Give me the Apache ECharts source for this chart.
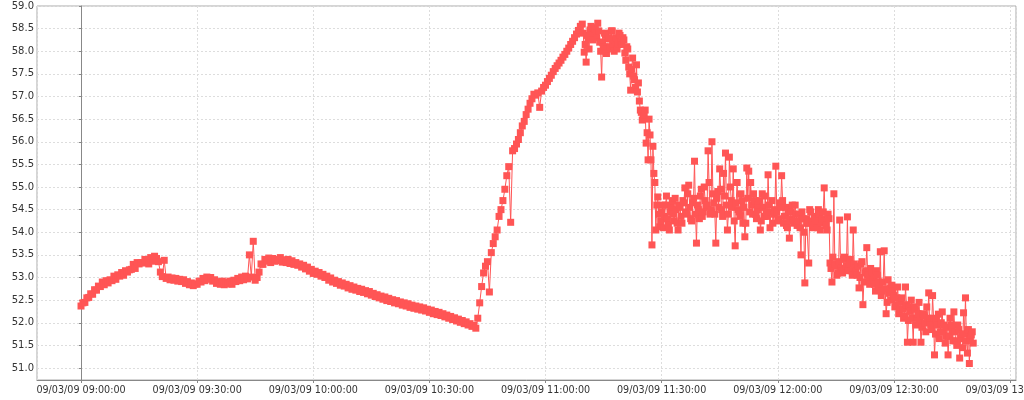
<!DOCTYPE html>
<html>
<head>
<meta charset="utf-8">
<script src="https://cdn.jsdelivr.net/npm/echarts@6/dist/echarts.min.js"></script>
<style>
  html, body { margin: 0; padding: 0; background: #fff; }
  #chart { width: 1024px; height: 400px; }
</style>
</head>
<body>
<div id="chart"></div>
<script>
// readings every 30 s from 09:00:00 (minutes after 09:00 = index * 0.5)
var stepMinutes = 0.5;
var values = [
  52.37, 52.44, 52.45, 52.55, 52.56, 52.64, 52.63, 52.73, 52.72, 52.81,
  52.80, 52.90, 52.84, 52.93, 52.88, 52.95, 52.93, 53.03, 52.96, 53.06,
  53.03, 53.11, 53.05, 53.15, 53.12, 53.17, 53.18, 53.29, 53.20, 53.33,
  53.30, 53.33, 53.32, 53.40, 53.36, 53.30, 53.44, 53.36, 53.47, 53.42,
  53.35, 53.12, 53.02, 53.38, 52.98, 53.01, 52.95, 52.99, 52.94, 52.98,
  52.92, 52.96, 52.91, 52.95, 52.87, 52.91, 52.84, 52.88, 52.82, 52.86,
  52.85, 52.92, 52.90, 52.98, 52.93, 53.01, 52.96, 53.00, 52.92, 52.95,
  52.87, 52.91, 52.85, 52.92, 52.84, 52.90, 52.86, 52.92, 52.85, 52.94,
  52.91, 52.98, 52.93, 53.01, 52.95, 53.03, 52.97, 53.50, 53.01, 53.80,
  52.94, 53.00, 53.12, 53.30, 53.29, 53.40, 53.36, 53.43, 53.33, 53.42,
  53.36, 53.40, 53.37, 53.44, 53.34, 53.39, 53.33, 53.40, 53.31, 53.37,
  53.29, 53.33, 53.27, 53.30, 53.23, 53.27, 53.19, 53.23, 53.14, 53.18,
  53.09, 53.14, 53.07, 53.11, 53.03, 53.07, 53.00, 53.03, 52.94, 52.99,
  52.90, 52.94, 52.87, 52.91, 52.83, 52.88, 52.81, 52.85, 52.77, 52.82,
  52.74, 52.79, 52.72, 52.76, 52.69, 52.74, 52.67, 52.71, 52.64, 52.69,
  52.61, 52.65, 52.58, 52.62, 52.55, 52.59, 52.52, 52.57, 52.49, 52.54,
  52.47, 52.51, 52.44, 52.49, 52.42, 52.46, 52.39, 52.44, 52.37, 52.42,
  52.34, 52.39, 52.32, 52.37, 52.30, 52.35, 52.28, 52.33, 52.26, 52.30,
  52.23, 52.28, 52.20, 52.25, 52.18, 52.23, 52.16, 52.20, 52.13, 52.17,
  52.10, 52.14, 52.07, 52.11, 52.04, 52.08, 52.01, 52.05, 51.98, 52.02,
  51.95, 51.98, 51.92, 51.94, 51.88, 52.10, 52.44, 52.80, 53.10, 53.25,
  53.35, 52.68, 53.55, 53.75, 53.90, 54.05, 54.35, 54.50, 54.70, 54.95,
  55.25, 55.45, 54.22, 55.80, 55.85, 55.95, 56.05, 56.20, 56.35, 56.45,
  56.60, 56.72, 56.85, 56.95, 57.05, 57.03, 57.08, 56.76, 57.12, 57.20,
  57.25, 57.33, 57.40, 57.47, 57.55, 57.62, 57.68, 57.74, 57.80, 57.87,
  57.93, 58.00, 58.07, 58.15, 58.22, 58.30, 58.38, 58.46, 58.55, 58.60,
  57.98, 57.76, 58.30, 58.47, 58.35, 58.52, 58.40, 58.62, 58.20, 57.43,
  58.10, 58.35, 58.05, 58.28, 58.45, 58.15, 58.25, 58.05, 58.40, 58.20,
  58.30, 57.96, 58.10, 57.65, 57.14, 57.85, 57.37, 57.70, 57.30, 56.70,
  56.48, 56.60, 55.97, 55.60, 56.15, 53.72, 55.30, 54.05, 54.78, 54.12,
  54.45, 54.10, 54.60, 54.30, 54.05, 54.55, 54.40, 54.75, 54.20, 54.60,
  54.35, 54.70, 54.98, 54.40, 55.04, 54.30, 54.65, 55.57, 53.76, 54.50,
  54.80, 54.35, 55.00, 54.55, 55.80, 54.40, 56.00, 54.65, 53.76, 54.90,
  55.40, 54.50, 55.30, 55.75, 54.05, 55.66, 54.70, 55.40, 53.70, 55.10,
  54.45, 54.85, 54.20, 53.90, 55.42, 55.35, 55.10, 54.40, 54.70, 54.30,
  54.60, 54.05, 54.85, 54.35, 54.45, 55.27, 54.10, 54.70, 54.40, 55.46,
  54.30, 54.65, 55.25, 54.20, 54.55, 54.10, 53.87, 54.45, 54.25, 54.60,
  54.15, 54.40, 53.50, 54.30, 52.88, 54.20, 53.32, 54.45, 54.10, 54.35,
  54.20, 54.50, 54.05, 54.30, 54.98, 54.15, 54.40, 53.32, 52.90, 54.85,
  53.25, 53.10, 54.27, 53.15, 53.40, 53.20, 54.34, 53.30, 53.15, 54.05,
  53.20, 53.05, 52.77, 53.30, 52.40, 53.10, 53.66, 52.95, 53.20, 53.00,
  52.85, 53.15, 52.90, 53.57, 52.70, 53.59, 52.20, 52.95, 52.75, 52.83,
  52.60, 52.40, 52.79, 52.30, 52.55, 52.10, 52.79, 51.57, 52.35, 52.50,
  51.57, 52.30, 52.10, 52.45, 51.57, 52.20, 52.00, 52.35, 52.66, 51.95,
  52.60, 51.29, 52.05, 52.19, 51.80, 52.24, 51.95, 51.70, 51.29, 52.10,
  51.85, 52.24, 51.60, 51.95, 51.22, 51.75, 52.22, 52.55, 51.33, 51.10,
  51.73, 51.55
];
// extra readings in the noisy part, every 30 s from 11:09:45
var midStartMinutes = 129.75;
var midValues = [
  58.40, 58.15, 58.35, 58.05, 58.55, 58.25, 58.50, 58.30, 58.45, 58.00,
  58.20, 58.40, 57.95, 58.30, 58.10, 58.45, 58.00, 58.30, 58.15, 58.35,
  58.15, 58.25, 57.80, 58.05, 57.50, 57.60, 57.45, 57.20, 57.10, 56.90,
  56.65, 56.55, 56.70, 56.20, 56.50, 55.60, 55.90, 55.10, 54.60, 54.40,
  54.25, 54.60, 54.35, 54.80, 54.15, 54.45, 54.70, 54.25, 54.50, 54.05,
  54.55, 54.20, 54.65, 54.45, 54.85, 54.55, 54.25, 54.75, 54.40, 54.60,
  54.30, 54.95, 54.45, 54.70, 54.60, 55.10, 54.50, 54.85, 54.40, 54.75,
  54.55, 54.95, 54.35, 54.80, 54.60, 54.40, 55.00, 54.55, 54.25, 54.65,
  54.50, 54.35, 54.70, 54.55, 54.20, 54.75, 54.45, 54.60, 54.85, 54.40,
  54.50, 54.70, 54.25, 54.55, 54.80, 54.35, 54.60, 54.45, 54.20, 54.50,
  54.45, 54.25, 54.55, 54.70, 54.35, 54.15, 54.50, 54.30, 54.60, 54.20,
  54.40, 54.25, 54.10, 54.45, 54.00, 54.30, 54.20, 54.50, 54.25, 54.15,
  54.30, 54.10, 54.40, 54.20, 54.45, 54.25, 54.05, 54.30, 53.20, 53.45,
  53.30, 53.05, 53.35, 53.20, 53.10, 53.45, 53.25, 53.15, 53.40, 53.05,
  53.30, 53.15, 53.25, 53.00, 53.35, 52.90, 53.15, 53.05, 52.85, 53.10,
  52.95, 52.70, 53.05, 52.80, 52.60, 52.90, 52.75, 52.45, 52.65, 52.50,
  52.70, 52.35, 52.55, 52.20, 52.45, 52.30, 52.15, 52.40, 52.05, 52.25,
  52.10, 52.35, 51.95, 52.20, 52.05, 51.90, 52.15, 51.80, 52.10, 52.00,
  51.85, 52.10, 51.75, 51.95, 51.65, 52.00, 51.80, 51.55, 51.90, 51.70,
  51.95, 51.60, 51.80, 51.50, 51.85, 51.65, 51.45, 51.75, 51.60, 51.85,
  51.65, 51.80
];
// tick labels, one per 30 minutes from 09:00
var tickLabels = [
  '09/03/09 09:00:00', '09/03/09 09:30:00', '09/03/09 10:00:00',
  '09/03/09 10:30:00', '09/03/09 11:00:00', '09/03/09 11:30:00',
  '09/03/09 12:00:00', '09/03/09 12:30:00', '09/03/09 13:00:00'
];

var points = [];
for (var i = 0; i < values.length; i++) {
  points.push([i * stepMinutes, values[i]]);
}
for (var j = 0; j < midValues.length; j++) {
  points.push([midStartMinutes + j * stepMinutes, midValues[j]]);
}
points.sort(function (a, b) { return a[0] - b[0]; });

var myChart = echarts.init(document.getElementById('chart'));
var option = {
  animation: false,
  backgroundColor: '#fff',
  grid: {
    left: 37, right: 8, top: 6, bottom: 20,
    outerBoundsMode: 'none',
    show: true, borderColor: '#aaa', borderWidth: 1
  },
  xAxis: {
    type: 'value',
    min: -11.37,
    max: 241.55,
    splitNumber: 8,
    axisLine: { lineStyle: { color: '#888' } },
    axisTick: { length: 3, lineStyle: { color: '#888' } },
    axisLabel: {
      showMinLabel: false, showMaxLabel: false,
      color: '#333', fontFamily: 'DejaVu Sans', fontSize: 9.6, margin: 5,
      formatter: function (v) {
        var k = Math.round(v / 30);
        return (Math.abs(v - k * 30) < 0.01 && tickLabels[k]) ? tickLabels[k] : '';
      }
    },
    splitLine: { lineStyle: { color: '#ddd', type: [2, 2] } }
  },
  yAxis: {
    type: 'value',
    min: 50.735,
    max: 59.0,
    splitNumber: 16,
    axisLine: { show: true, lineStyle: { color: '#888' } },
    axisTick: { show: true, length: 2, lineStyle: { color: '#888' } },
    axisLabel: {
      showMinLabel: false,
      color: '#333', fontFamily: 'DejaVu Sans', fontSize: 10, margin: 3,
      formatter: function (v) { return v.toFixed(1); }
    },
    splitLine: { lineStyle: { color: '#ddd', type: [2, 2] } }
  },
  series: [{
    type: 'line',
    data: points,
    symbol: 'rect',
    symbolSize: 7,
    showAllSymbol: true,
    itemStyle: { color: '#FF5555' },
    lineStyle: { color: '#FF5555', width: 1 }
  }]
};
myChart.setOption(option);
</script>
</body>
</html>
